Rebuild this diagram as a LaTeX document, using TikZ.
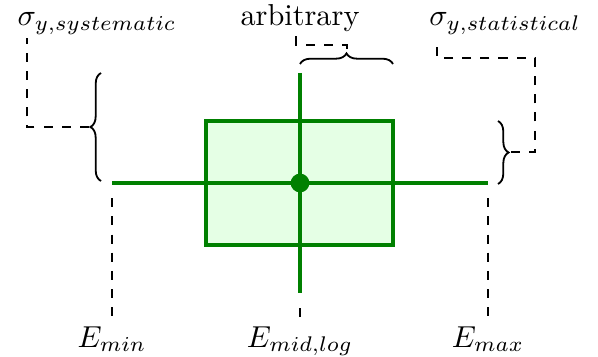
\documentclass[tikz,border=0pt]{standalone}
\usepackage{amsmath}
\usetikzlibrary{decorations.pathreplacing}

\begin{document}
\begin{tikzpicture}[
      x=0.33pt, y=-0.33pt,
      bar/.style={draw=green!50!black, line width=1pt},
      window/.style={draw=green!50!black, fill=green!10, line width=1pt},
      brace/.style={decorate, decoration={brace, amplitude=3.5pt}, semithick},
      guide/.style={dashed, thin},
      lbl/.style={anchor=base, inner sep=1pt}
    ]
    \useasboundingbox (0,0) rectangle (598,356);

    % --- labels ---
    \node[lbl] (sys)  at (97,26)  {$\sigma_{y,systematic}$};
    \node[lbl] (arb)  at (300,26) {arbitrary};
    \node[lbl] (stat) at (505,26) {$\sigma_{y,statistical}$};
    \node[lbl] (lo)   at (112,347) {$E_{min}$};
    \node[lbl] (mid)  at (300,347) {$E_{mid,log}$};
    \node[lbl] (hi)   at (488,347) {$E_{max}$};

    % --- point with box and bars ---
    \coordinate (left)   at (112,183);
    \coordinate (right)  at (488,183);
    \coordinate (top)    at (300,73);
    \coordinate (bottom) at (300,293);
    \coordinate (centre) at (300,183);
    \draw[window] (206,121) rectangle (393,245);
    \draw[bar] (left) -- (right);
    \draw[bar] (top) -- (bottom);
    \fill[green!50!black] (centre) circle (3.1pt);

    % --- braces ---
    \draw[brace] (101,181) -- (101,73);
    \draw[brace] (300,64) -- (393,64);
    \draw[brace] (498,121) -- (498,184);
    \coordinate (ltip) at (89,127);
    \coordinate (ttip) at (347,49);
    \coordinate (rtip) at (511,152);

    % --- dashed guides ---
    \draw[guide] (ltip) -| (27,0 |- sys.south);
    \draw[guide] (ttip) |- (296,45) -- (296,0 |- arb.south);
    \draw[guide] (rtip) -| (535,58) -| (437,0 |- stat.south);
    \draw[guide] ([yshift=-5pt]left) -- (lo.north);
    \draw[guide] ([yshift=-5pt]bottom) -- (mid.north);
    \draw[guide] ([yshift=-5pt]right) -- (hi.north);

  \end{tikzpicture}
\end{document}
